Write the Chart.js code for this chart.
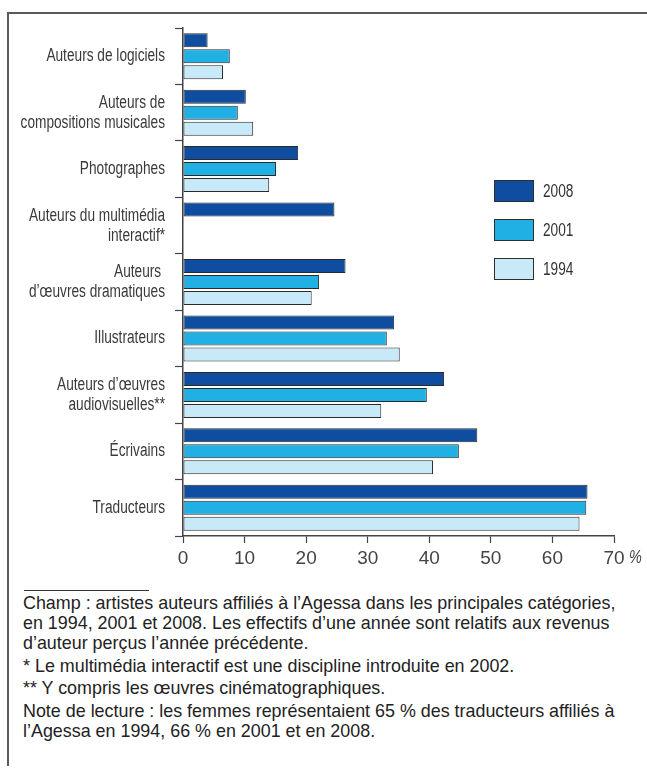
<!DOCTYPE html>
<html>
<head>
<meta charset="utf-8">
<script src="https://cdn.jsdelivr.net/npm/chart.js@4/dist/chart.umd.min.js"></script>
<style>
    body { margin: 0; background: #fff; }
    #page { position: relative; width: 647px; height: 770px; overflow: hidden; }
    #frame { position: absolute; left: 7px; top: 12px; width: 640px; height: 752px;
        border-left: 2px solid #5a5a5a; border-top: 2px solid #5a5a5a; }
    #chart { position: absolute; left: 0; top: 0; }
    #rule { position: absolute; left: 24px; top: 590px; width: 125px; border-top: 1px solid #333; }
    #notes { position: absolute; left: 23px; top: 593px; width: 624px; white-space: nowrap;
        font-family: "Liberation Sans", Arial, sans-serif; font-size: 17.9px; color: #222; line-height: 20px; }
    #notes p { margin: 0 0 2.5px 0; }
</style>
</head>
<body>
<div id="page">
    <div id="frame"></div>
    <canvas id="chart" width="647" height="580"></canvas>
    <div id="rule"></div>
    <div id="notes">
        <p>Champ : artistes auteurs affiliés à l’Agessa dans les principales catégories,<br>en 1994, 2001 et 2008. Les effectifs d’une année sont relatifs aux revenus<br>d’auteur perçus l’année précédente.</p>
        <p>* Le multimédia interactif est une discipline introduite en 2002.</p>
        <p>** Y compris les œuvres cinématographiques.</p>
        <p>Note de lecture : les femmes représentaient 65 % des traducteurs affiliés à<br>l’Agessa en 1994, 66 % en 2001 et en 2008.</p>
    </div>
</div>
<script>
const categories = [
    'Auteurs de logiciels',
    ['Auteurs de', 'compositions musicales'],
    'Photographes',
    ['Auteurs du multimédia', 'interactif*'],
    ['Auteurs ', 'd’œuvres dramatiques'],
    'Illustrateurs',
    ['Auteurs d’œuvres', 'audiovisuelles**'],
    'Écrivains',
    'Traducteurs'
];
const years = ['2008', '2001', '1994'];
const values2008 = [4.0, 10.2, 18.7, 24.6, 26.4, 34.3, 42.4, 47.8, 65.7];
const values2001 = [7.6, 8.9, 15.1, null, 22.1, 33.1, 39.6, 44.8, 65.5];
const values1994 = [6.5, 11.4, 14.0, null, 20.9, 35.2, 32.2, 40.6, 64.4];
const colors = ['#0e4d9f', '#20b0e4', '#c8e9f8'];

const FONT = '"Liberation Sans", Arial, sans-serif';
const NARROW = 0.76; // the original uses a condensed face, squeeze the regular one

// draws condensed text right- or left-aligned at x
const narrowText = (ctx, text, x, y, align) => {
    ctx.save();
    ctx.scale(NARROW, 1);
    ctx.textAlign = align;
    ctx.fillText(text, x / NARROW, y);
    ctx.restore();
};

const narrowLabels = {
    id: 'narrowLabels',
    afterDraw(chart) {
        const ctx = chart.ctx;
        const ys = chart.scales.y;
        ctx.save();
        ctx.fillStyle = '#3a3a3a';
        ctx.font = '18px ' + FONT;
        ctx.textBaseline = 'middle';
        chart.data.labels.forEach((label, i) => {
            const lines = Array.isArray(label) ? label : [label];
            const mid = ys.getPixelForValue(i);
            lines.forEach((line, j) => {
                const y = mid + (j - (lines.length - 1) / 2) * 20;
                narrowText(ctx, line, 165, y, 'right');
            });
        });

        // legend boxes inside the plot, to the right
        chart.data.datasets.forEach((ds, i) => {
            const y = 180 + i * 39;
            ctx.fillStyle = ds.backgroundColor;
            ctx.fillRect(494, y, 40, 22);
            ctx.strokeStyle = '#2e2e2e';
            ctx.lineWidth = 1;
            ctx.strokeRect(494.5, y + 0.5, 39, 21);
            ctx.fillStyle = '#333';
            ctx.font = '18px ' + FONT;
            narrowText(ctx, ds.label, 543, y + 12, 'left');
        });

        // unit after the last tick
        const xs = chart.scales.x;
        ctx.font = 'italic 19px ' + FONT;
        ctx.fillStyle = '#444';
        narrowText(ctx, '%', xs.getPixelForValue(70) + 15, 558, 'left');
        ctx.restore();
    }
};

const onload = () => {
    const ctx = document.getElementById('chart').getContext('2d');
    const series = [values2008, values2001, values1994];
    new Chart(ctx, {
        type: 'bar',
        data: {
            labels: categories,
            datasets: series.map((data, i) => ({
                label: years[i],
                data: data,
                backgroundColor: colors[i],
                borderColor: '#2a2a2a',
                borderWidth: 1,
                borderSkipped: false,
                categoryPercentage: 0.85,
                barPercentage: 0.875
            }))
        },
        options: {
            indexAxis: 'y',
            responsive: false,
            animation: false,
            layout: { padding: { left: 8, right: 33, top: 28, bottom: 0 } },
            plugins: {
                legend: { display: false },
                tooltip: { enabled: false }
            },
            scales: {
                x: {
                    min: 0,
                    max: 70,
                    ticks: { stepSize: 10, color: '#444', font: { family: FONT, size: 19 }, padding: 4 },
                    grid: { drawOnChartArea: false, tickLength: 7, color: '#444', tickWidth: 1.2 },
                    border: { color: '#444', width: 1.5 },
                    afterFit: (scale) => { scale.height = 44; }
                },
                y: {
                    ticks: { display: false },
                    grid: { drawOnChartArea: false, tickLength: 8, color: '#444', tickWidth: 1.2 },
                    border: { color: '#444', width: 1.5 },
                    afterFit: (scale) => { scale.width = 175; }
                }
            }
        },
        plugins: [narrowLabels]
    });
};

document.addEventListener('DOMContentLoaded', onload);
</script>
</body>
</html>
